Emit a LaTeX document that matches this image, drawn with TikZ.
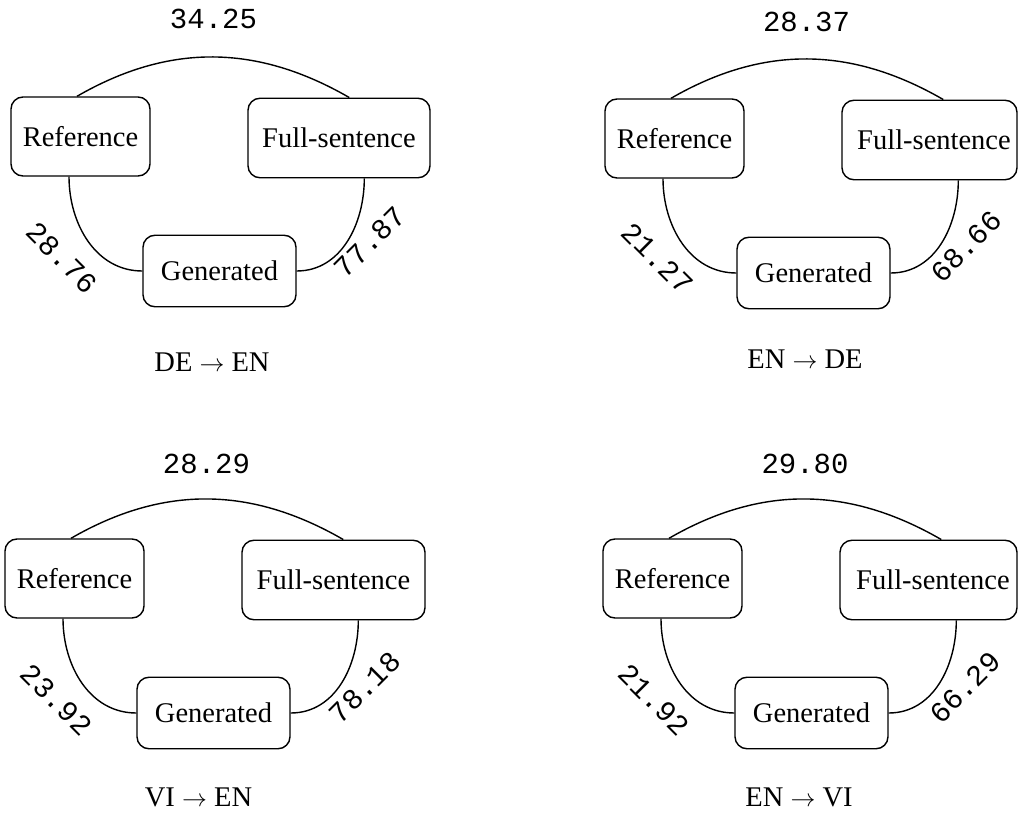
\documentclass[tikz,border=0pt]{standalone}
\usepackage{fontspec}
\setmainfont{Liberation Serif}
\setmonofont{Liberation Mono}
\usetikzlibrary{calc}
\tikzset{
  box/.style={draw, line width=1.4pt, rounded corners=12pt, inner sep=0pt, font=\fontsize{28.5}{34}\selectfont},
  num/.style={font=\ttfamily\fontsize{29}{34}\selectfont, inner sep=0pt},
  capt/.style={font=\fontsize{28.5}{34}\selectfont, inner sep=0pt},
  link/.style={line width=1.4pt},
}
\begin{document}
\begin{tikzpicture}[x=1pt,y=1pt]
\useasboundingbox (0,0) rectangle (1018,-816);
% Panel 1
\begin{scope}[shift={(0,0)}]
\node[box, minimum width=139pt, minimum height=79pt] (r1) at (80.5,-136.5) {Reference};
\node[box, minimum width=182pt, minimum height=79.5pt] (f1) at (339,-138) {Full-sentence};
\node[box, minimum width=153pt, minimum height=71.5pt] (g1) at (219.5,-271) {Generated};
\node[num] (t1) at (213.5,-19) {34.25};
\node[num, rotate=-45] (a1) at (62,-258) {28.76};
\node[num, rotate=45] (b1) at (370,-242) {77.87};
\node[capt] (c1) at (212,-362) {DE $\rightarrow$ EN};
\draw[link] ($(r1.north)+(-3.5,0)$) to[out=30,in=150] ($(f1.north west)+(102,0)$);
\draw[link] ($(r1.south)+(-11.5,0)$) to[out=-90,in=180] (g1.west);
\draw[link] ($(f1.south west)+(117,0)$) to[out=-90,in=0] (g1.east);
\end{scope}
% Panel 2
\begin{scope}[shift={(594,-2)}]
\node[box, minimum width=139pt, minimum height=79pt] (r2) at (80.5,-136.5) {Reference};
\node[box, minimum width=175pt, minimum height=79.5pt] (f2) at (335.5,-138) {\hspace*{9pt}Full-sentence};
\node[box, minimum width=153pt, minimum height=71.5pt] (g2) at (219.5,-271) {Generated};
\node[num] (t2) at (212.5,-19.5) {28.37};
\node[num, rotate=-45] (a2) at (63.5,-256.5) {21.27};
\node[num, rotate=45] (b2) at (372,-244.5) {68.66};
\node[capt] (c2) at (211,-357) {EN $\rightarrow$ DE};
\draw[link] ($(r2.north)+(-3.5,0)$) to[out=30,in=150] ($(f2.north west)+(102,0)$);
\draw[link] ($(r2.south)+(-11.5,0)$) to[out=-90,in=180] (g2.west);
\draw[link] ($(f2.south west)+(117,0)$) to[out=-90,in=0] (g2.east);
\end{scope}
% Panel 3
\begin{scope}[shift={(-6,-442)}]
\node[box, minimum width=139pt, minimum height=79pt] (r3) at (80.5,-136.5) {Reference};
\node[box, minimum width=183pt, minimum height=79.5pt] (f3) at (339.5,-138) {Full-sentence};
\node[box, minimum width=153pt, minimum height=71.5pt] (g3) at (219.5,-271) {Generated};
\node[num] (t3) at (212.5,-21.5) {28.29};
\node[num, rotate=-45] (a3) at (62.5,-258) {23.92};
\node[num, rotate=45] (b3) at (371,-245.5) {78.18};
\node[capt] (c3) at (204.5,-355.5) {VI $\rightarrow$ EN};
\draw[link] ($(r3.north)+(-3.5,0)$) to[out=30,in=150] ($(f3.north west)+(102,0)$);
\draw[link] ($(r3.south)+(-11.5,0)$) to[out=-90,in=180] (g3.west);
\draw[link] ($(f3.south west)+(117,0)$) to[out=-90,in=0] (g3.east);
\end{scope}
% Panel 4
\begin{scope}[shift={(592,-442)}]
\node[box, minimum width=139pt, minimum height=79pt] (r4) at (80.5,-136.5) {Reference};
\node[box, minimum width=177pt, minimum height=79.5pt] (f4) at (336.5,-138) {\hspace*{9pt}Full-sentence};
\node[box, minimum width=153pt, minimum height=71.5pt] (g4) at (219.5,-271) {Generated};
\node[num] (t4) at (213,-21.5) {29.80};
\node[num, rotate=-45] (a4) at (62,-258) {21.92};
\node[num, rotate=45] (b4) at (373,-245.5) {66.29};
\node[capt] (c4) at (207,-355.5) {EN $\rightarrow$ VI};
\draw[link] ($(r4.north)+(-3.5,0)$) to[out=30,in=150] ($(f4.north west)+(102,0)$);
\draw[link] ($(r4.south)+(-11.5,0)$) to[out=-90,in=180] (g4.west);
\draw[link] ($(f4.south west)+(117,0)$) to[out=-90,in=0] (g4.east);
\end{scope}
\end{tikzpicture}
\end{document}
